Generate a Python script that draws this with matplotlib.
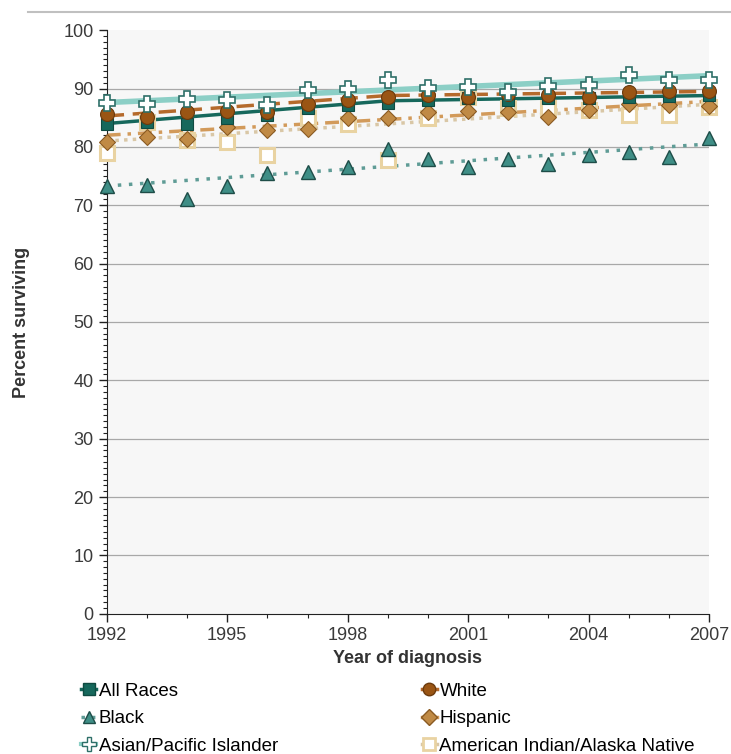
import matplotlib as mpl
mpl.use("Agg")
import matplotlib.pyplot as plt
from matplotlib.lines import Line2D
from matplotlib.ticker import MultipleLocator
import numpy as np

plt.rcParams['font.family'] = ['Liberation Sans', 'DejaVu Sans']

years = np.arange(1992, 2008)

# observed survival, percent
all_races = [84.0, 84.3, 84.0, 85.0, 85.5, 86.6, 87.2, 87.6, 88.0, 88.3, 88.0, 88.3, 88.4, 88.6, 88.8, 88.9]
white = [85.6, 85.1, 85.9, 86.1, 86.0, 87.4, 88.0, 88.6, 88.9, 88.6, 89.1, 88.9, 88.6, 89.4, 89.5, 89.5]
black = [73.3, 73.5, 71.1, 73.3, 75.5, 75.7, 76.6, 79.6, 78.0, 76.6, 78.0, 77.0, 78.6, 79.2, 78.3, 81.5]
hispanic = [80.9, 81.7, 81.4, 83.4, 82.9, 83.1, 84.9, 84.9, 86.0, 86.2, 86.0, 85.2, 86.3, 87.4, 87.2, 87.0]
asian = [87.6, 87.3, 88.2, 88.0, 87.1, 89.8, 90.0, 91.5, 90.1, 90.3, 89.4, 90.5, 90.6, 92.3, 91.5, 91.5]
aian = [79.0, 84.3, 81.2, 80.9, 78.6, 84.9, 84.0, 77.7, 84.9, 88.5, 86.6, 86.6, 86.3, 85.4, 85.4, 86.9]

# fitted trends (joinpoints)
all_races_trend_x = [1992, 1999, 2007]
all_races_trend = [84.0, 87.9, 88.8]
white_trend_x = [1992, 1999, 2007]
white_trend = [85.3, 88.8, 89.5]
black_trend_x = [1992, 2007]
black_trend = [73.3, 80.5]
hispanic_trend_x = [1992, 2007]
hispanic_trend = [82.0, 87.8]
asian_trend_x = [1992, 2007]
asian_trend = [87.6, 92.2]
aian_trend_x = [1992, 2007]
aian_trend = [81.0, 87.3]

fig = plt.figure(figsize=(7.31, 7.54), dpi=100)
ax = fig.add_axes([0.146, 0.186, 0.824, 0.774])
ax.set_facecolor('#f7f7f7')

c_all = '#16685c'
c_white = '#9a5514'
c_black = '#3f8e86'
c_hisp = '#c08a45'
c_asian = '#8ccfc6'
c_aian = '#e9d3a2'

# trend lines
ax.plot(asian_trend_x, asian_trend, color=c_asian, lw=4, solid_capstyle='butt', zorder=2)
ax.plot(aian_trend_x, aian_trend, color='#d9c7a6', lw=2.5, ls=(0, (1, 1.5)), zorder=2)
ax.plot(hispanic_trend_x, hispanic_trend, color='#d29a5a', lw=2.5, ls=(0, (4, 2, 1, 2)), zorder=2)
ax.plot(black_trend_x, black_trend, color='#5f9c96', lw=2.5, ls=(0, (1, 2.2)), zorder=2)
ax.plot(white_trend_x, white_trend, color='#b56a2c', lw=2.5, ls=(0, (5, 2.5)), zorder=2)
ax.plot(all_races_trend_x, all_races_trend, color=c_all, lw=2.5, zorder=2)

# markers
ms = 10
mk = dict(ls='none', clip_on=False)
ax.plot(years, aian, marker='s', ms=ms, mfc='white', mec=c_aian, mew=2.2, zorder=3, **mk)
ax.plot(years, hispanic, marker='D', ms=ms * 0.8, mfc=c_hisp, mec='#8a5a22', mew=0.8, zorder=3, **mk)
ax.plot(years, black, marker='^', ms=ms, mfc=c_black, mec='#1e4d48', mew=1.0, zorder=3, **mk)
ax.plot(years, all_races, marker='s', ms=ms * 0.85, mfc=c_all, mec='#0f4a41', mew=0.8, zorder=4, **mk)
ax.plot(years, white, marker='o', ms=ms, mfc=c_white, mec='#6b3a0d', mew=0.8, zorder=4, **mk)
ax.plot(years, asian, marker='P', ms=ms * 1.15, mfc='white', mec='#2e6f68', mew=1.2, zorder=5, **mk)

ax.set_xlim(1992, 2007)
ax.set_ylim(0, 100)
ax.set_xticks([1992, 1995, 1998, 2001, 2004, 2007])
ax.xaxis.set_minor_locator(MultipleLocator(1))
ax.set_yticks(range(0, 101, 10))
ax.yaxis.set_minor_locator(MultipleLocator(1))
ax.tick_params(axis='both', which='major', length=6, width=1, labelsize=13, labelcolor='#3a3a3a', color='#222222')
ax.tick_params(axis='both', which='minor', length=3, width=0.8, color='#222222')

for v in range(10, 100, 10):
    ax.axhline(v, color='#a8a8a8', lw=0.9, zorder=1)

for s in ['top', 'right']:
    ax.spines[s].set_visible(False)
ax.spines['left'].set_color('#222222')
ax.spines['bottom'].set_color('#222222')

ax.set_xlabel('Year of diagnosis', fontsize=13, fontweight='bold', color='#333333', labelpad=4)
ax.set_ylabel('Percent surviving', fontsize=13, fontweight='bold', color='#333333', labelpad=24)

# line across the top
fig.add_artist(Line2D([0.038, 1.0], [0.984, 0.984], color='#c0c0c0', lw=1.5))

left_handles = [
    Line2D([], [], color=c_all, lw=2.5, marker='s', ms=8, mfc=c_all, mec='#0f4a41'),
    Line2D([], [], color='#5f9c96', lw=2.5, ls=(0, (1, 2)), marker='^', ms=9, mfc=c_black, mec='#1e4d48'),
    Line2D([], [], color=c_asian, lw=3, marker='P', ms=10, mfc='white', mec='#2e6f68'),
]
right_handles = [
    Line2D([], [], color='#b56a2c', lw=2.5, marker='o', ms=9, mfc=c_white, mec='#6b3a0d'),
    Line2D([], [], color='#d29a5a', lw=2.5, marker='D', ms=8, mfc=c_hisp, mec='#8a5a22'),
    Line2D([], [], color='#d9c7a6', lw=2.5, marker='s', ms=9, mfc='white', mec=c_aian, mew=2),
]
kw = dict(frameon=False, fontsize=13.5, handlelength=0.8, handletextpad=0.15,
          labelspacing=0.55, borderpad=0, loc='upper left')
fig.legend(left_handles, ['All Races', 'Black', 'Asian/Pacific Islander'],
           bbox_to_anchor=(0.098, 0.107), **kw)
fig.legend(right_handles, ['White', 'Hispanic', 'American Indian/Alaska Native'],
           bbox_to_anchor=(0.564, 0.107), **kw)

fig.savefig('out.png', dpi=100)
